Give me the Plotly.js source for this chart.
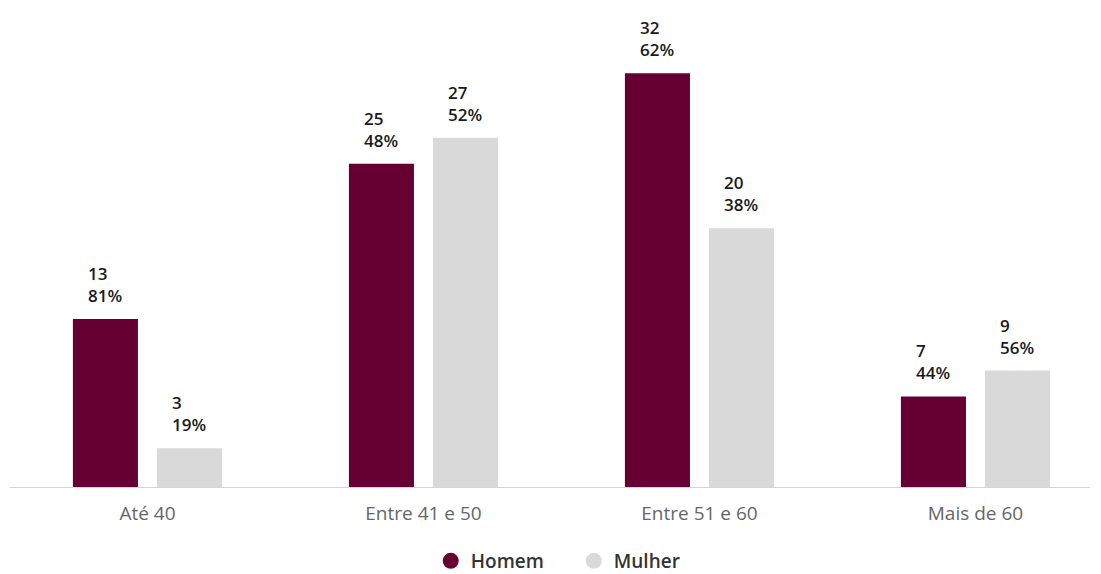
<!DOCTYPE html>
<html><head><meta charset="utf-8">
<script src="https://cdn.plot.ly/plotly-3.0.1.min.js"></script>
<style>html,body{margin:0;padding:0;background:#fff}#chart{width:1101px;height:574px}</style>
</head><body><div id="chart"></div>
<script>
const categories = ["Até 40", "Entre 41 e 50", "Entre 51 e 60", "Mais de 60"];
const homemValues = [13, 25, 32, 7];
const mulherValues = [3, 27, 20, 9];
const homemPct = ["81%", "48%", "62%", "44%"];
const mulherPct = ["19%", "52%", "38%", "56%"];

const BARGAP = 0.391, GROUPGAP = 0.226;
const slot = (1 - BARGAP) / 2;
const idx = categories.map((c, i) => i);

const traces = [
  {type: 'bar', name: 'Homem', x: idx, y: homemValues, marker: {color: '#660033'}, showlegend: false, hoverinfo: 'none'},
  {type: 'bar', name: 'Mulher', x: idx, y: mulherValues, marker: {color: '#d9d9d9'}, showlegend: false, hoverinfo: 'none'},
  {type: 'scatter', mode: 'markers', name: 'Homem', x: [null], y: [null], marker: {color: '#660033', size: 18, symbol: 'circle'}},
  {type: 'scatter', mode: 'markers', name: 'Mulher', x: [null], y: [null], marker: {color: '#d9d9d9', size: 18, symbol: 'circle'}}
];

const labelFont = {family: 'Open Sans, sans-serif', size: 17, color: '#1a1a1a', weight: 600};
const annotations = [];
idx.forEach(i => {
  annotations.push({x: i - slot / 2, y: homemValues[i], xref: 'x', yref: 'y', text: homemValues[i] + '<br>' + homemPct[i],
    showarrow: false, xanchor: 'center', yanchor: 'bottom', align: 'left', yshift: 10, font: labelFont});
  annotations.push({x: i + slot / 2, y: mulherValues[i], xref: 'x', yref: 'y', text: mulherValues[i] + '<br>' + mulherPct[i],
    showarrow: false, xanchor: 'center', yanchor: 'bottom', align: 'left', yshift: 10, font: labelFont});
});

const layout = {
  width: 1101, height: 574,
  margin: {l: 10, r: 11, t: 0, b: 87, autoexpand: false},
  paper_bgcolor: '#fff', plot_bgcolor: '#fff',
  barmode: 'group', bargap: BARGAP, bargroupgap: GROUPGAP,
  xaxis: {range: [-0.498, 3.415], tickvals: idx, ticktext: categories, showgrid: false, zeroline: false,
    showline: true, linecolor: '#ccd6eb', linewidth: 1, ticks: '', ticklabelstandoff: 9, automargin: false,
    tickfont: {family: 'Open Sans, sans-serif', size: 19, color: '#666666'}, fixedrange: true},
  yaxis: {range: [0, 37.66], visible: false, showgrid: false, zeroline: false, fixedrange: true},
  showlegend: true,
  legend: {orientation: 'h', x: 0.522, xanchor: 'center', y: -0.152, yanchor: 'middle',
    font: {family: 'Open Sans, sans-serif', size: 19, color: '#333333', weight: 600},
    entrywidth: 98, tracegroupgap: 0},
  annotations: annotations
};

Plotly.newPlot('chart', traces, layout, {displayModeBar: false, staticPlot: true});
</script></body></html>
